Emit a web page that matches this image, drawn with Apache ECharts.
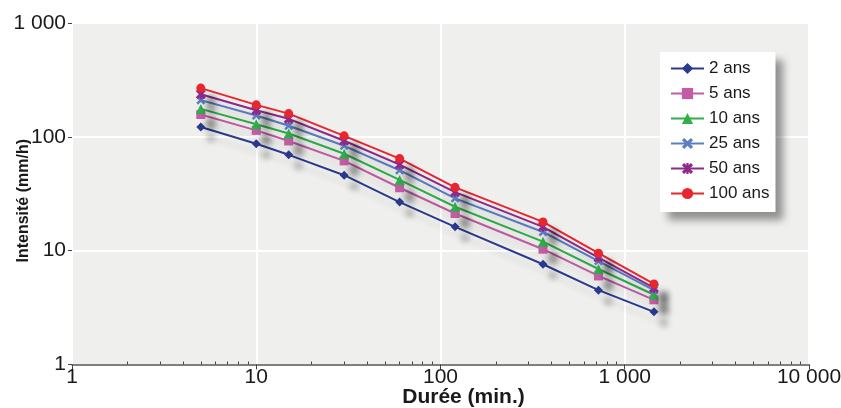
<!DOCTYPE html>
<html>
<head>
<meta charset="utf-8">
<script src="https://cdn.jsdelivr.net/npm/echarts@6/dist/echarts.min.js"></script>
<style>
  html, body { margin: 0; padding: 0; background: #fff; }
  #main { width: 841px; height: 408px; }
</style>
</head>
<body>
<div id="main"></div>
<script>
// durées (min.) et intensités (mm/h) par période de retour
var durees = [5, 10, 15, 30, 60, 120, 360, 720, 1440];
var ans2 = [122, 87, 69.5, 46, 26.7, 16.2, 7.6, 4.5, 2.9];
var ans5 = [157, 114, 92, 61.5, 35.7, 21.2, 10.3, 6.0, 3.7];
var ans10 = [176, 129, 107, 71, 41.8, 24.3, 12.0, 6.9, 4.1];
var ans25 = [210, 154, 125, 83.4, 50.9, 28.8, 14.6, 8.1, 4.5];
var ans50 = [237, 171, 144, 92.4, 57, 32.7, 16.2, 8.7, 4.7];
var ans100 = [268, 191, 160, 102, 64.4, 36, 17.9, 9.5, 5.1];

var noms = ['2 ans', '5 ans', '10 ans', '25 ans', '50 ans', '100 ans'];
var couleurs = ['#2b3a8f', '#c25ca5', '#2fae4a', '#5a7fc4', '#8e2a8c', '#e8262d'];
var symboles = [
    'diamond',
    'rect',
    'triangle',
    'path://M0,2 L2,0 L5,3 L8,0 L10,2 L7,5 L10,8 L8,10 L5,7 L2,10 L0,8 L3,5 Z',
    'path://M0,2 L2,0 L5,3 L8,0 L10,2 L7,5 L10,8 L8,10 L5,7 L2,10 L0,8 L3,5 Z M4,0 L6,0 L6,10 L4,10 Z',
    'circle'
];
var tailles = [9, 9, 10, 9, 10, 9];
var valeurs = [ans2, ans5, ans10, ans25, ans50, ans100];

var minorTicks = [];
[1, 10, 100, 1000].forEach(function (d) {
    for (var k = 2; k <= 9; k++) minorTicks.push(k * d);
});

function milliers(v) {
    return String(Math.round(v)).replace(/\B(?=(\d{3})+(?!\d))/g, ' ');
}

var font = "'Liberation Sans', Arial, sans-serif";

var series = [];
for (var s = 0; s < noms.length; s++) {
    var data = [];
    for (var i = 0; i < durees.length; i++) {
        data.push([durees[i], valeurs[s][i]]);
    }
    series.push({
        name: noms[s],
        type: 'line',
        data: data,
        symbol: symboles[s],
        symbolSize: tailles[s],
        showAllSymbol: true,
        itemStyle: {
            color: couleurs[s],
            shadowColor: 'rgba(0,0,0,0.35)',
            shadowBlur: 6,
            shadowOffsetX: 10,
            shadowOffsetY: 11
        },
        lineStyle: {
            color: couleurs[s],
            width: 2,
            shadowColor: 'rgba(0,0,0,0.12)',
            shadowBlur: 6,
            shadowOffsetX: 10,
            shadowOffsetY: 11
        },
        emphasis: { disabled: true }
    });
}

var myChart = echarts.init(document.getElementById('main'));
var option = {
    animation: false,
    textStyle: { fontFamily: font },
    grid: {
        left: 72,
        right: 32,
        top: 23,
        bottom: 43.5,
        containLabel: false,
        outerBoundsMode: 'none',
        show: true,
        backgroundColor: '#efefee',
        borderWidth: 0
    },
    legend: {
        orient: 'vertical',
        left: 660,
        top: 52,
        padding: [8, 6, 10, 10],
        itemWidth: 33,
        itemHeight: 14,
        itemGap: 8,
        backgroundColor: '#ffffff',
        shadowColor: 'rgba(0,0,0,0.4)',
        shadowBlur: 8,
        shadowOffsetX: 8,
        shadowOffsetY: 8,
        textStyle: { fontSize: 17, color: '#1a1a1a', fontFamily: font },
        data: noms
    },
    xAxis: [{
        type: 'log',
        logBase: 10,
        min: 1,
        max: 10000,
        name: 'Durée (min.)',
        nameLocation: 'middle',
        nameGap: 22,
        nameMoveOverlap: false,
        nameTextStyle: {
            fontSize: 21, fontWeight: 'bold', color: '#1a1a1a',
            fontFamily: font, padding: [0, 0, 0, 46]
        },
        axisLine: { show: true, lineStyle: { color: '#555', width: 1.5 } },
        axisTick: { show: true, length: 5, lineStyle: { color: '#444' } },
        axisLabel: {
            fontSize: 21, color: '#1a1a1a', margin: 2,
            formatter: milliers
        },
        splitLine: { show: true, lineStyle: { color: '#ffffff', width: 2 } }
    }, {
        type: 'log',
        logBase: 10,
        min: 1,
        max: 10000,
        gridIndex: 0,
        position: 'bottom',
        axisLine: { show: false },
        axisLabel: { show: false },
        splitLine: { show: false },
        axisTick: {
            show: true,
            inside: true,
            length: 3,
            customValues: minorTicks,
            lineStyle: { color: '#444' }
        }
    }],
    yAxis: {
        type: 'log',
        logBase: 10,
        min: 1,
        max: 1000,
        name: 'Intensité (mm/h)',
        nameLocation: 'middle',
        nameGap: 40,
        nameMoveOverlap: false,
        nameTextStyle: {
            fontSize: 16, fontWeight: 'bold', color: '#1a1a1a',
            fontFamily: font, padding: [0, 14, 0, 0]
        },
        axisLine: { show: false },
        axisTick: { show: true, length: 4, lineStyle: { color: '#444' } },
        axisLabel: {
            fontSize: 21, color: '#1a1a1a', margin: 6,
            formatter: milliers
        },
        splitLine: { show: true, lineStyle: { color: '#ffffff', width: 2 } }
    },
    series: series
};

option && myChart.setOption(option);
window.onresize = myChart.resize;
</script>
</body>
</html>
